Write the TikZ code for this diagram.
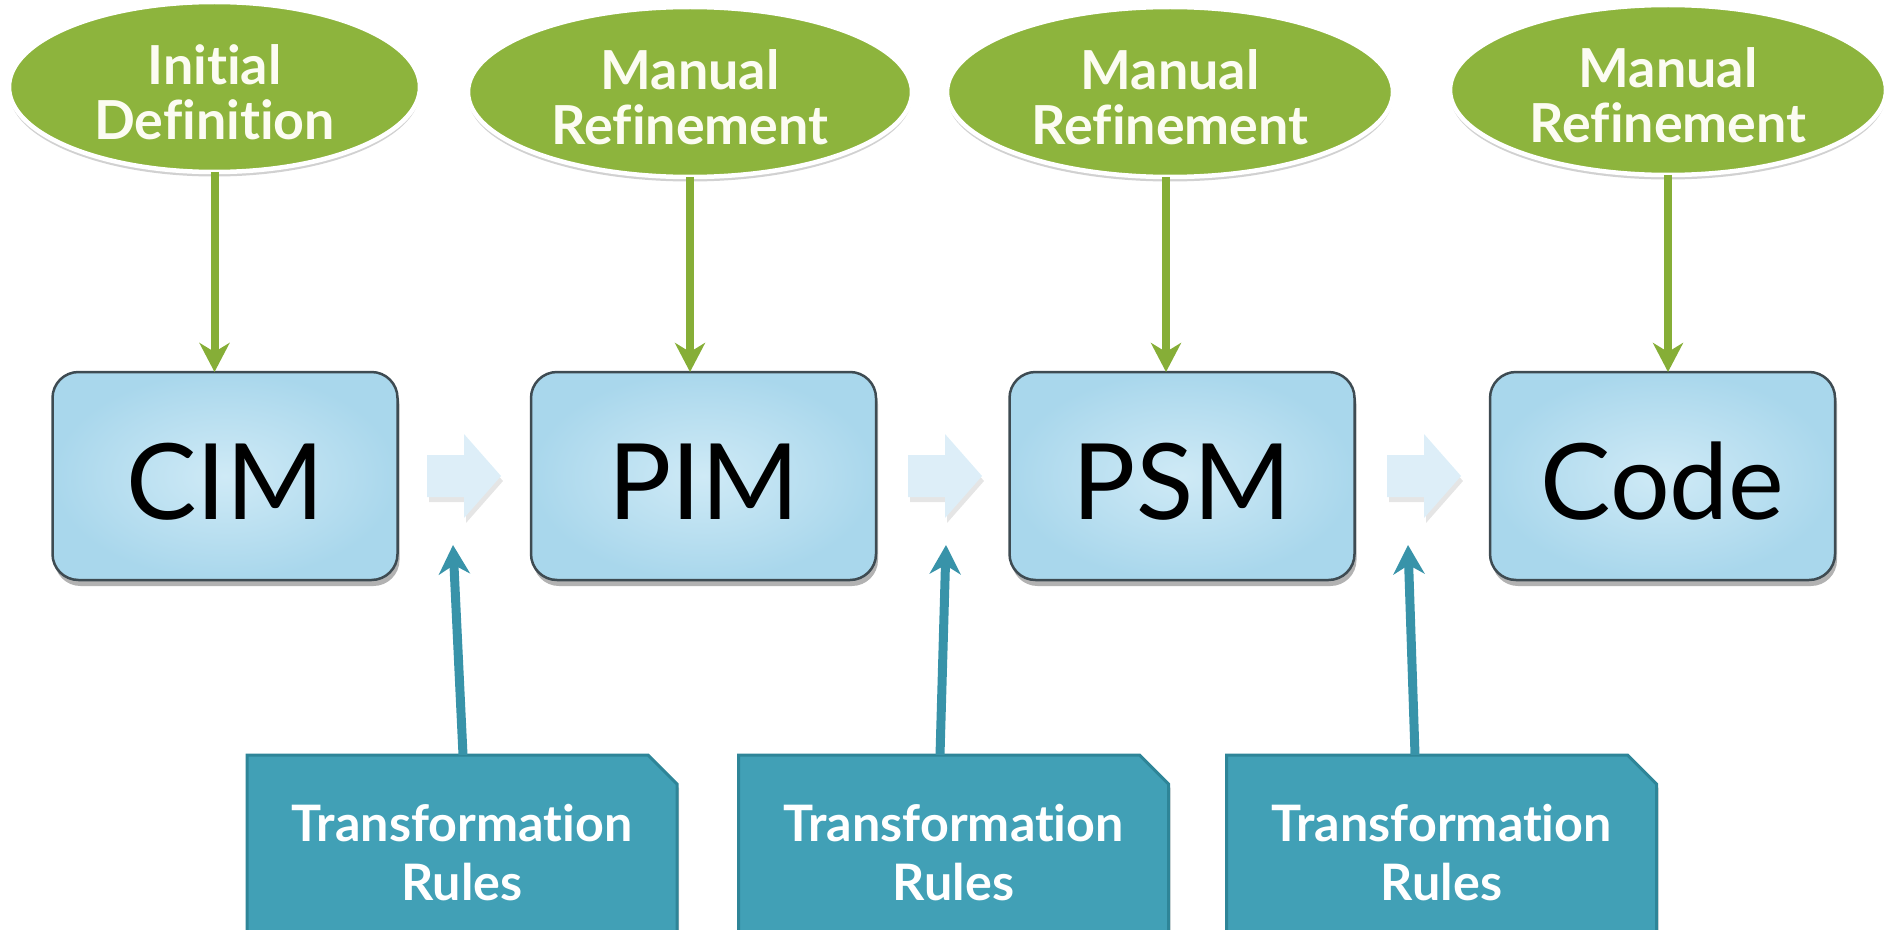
\documentclass[tikz,border=0pt]{standalone}
\usepackage{fontspec}
\setmainfont{Lato}[Ligatures={NoCommon,NoRare}]
\usetikzlibrary{shapes.geometric,shapes.misc,shadows,arrows.meta}
\definecolor{egreen}{HTML}{8DB43D}
\definecolor{agreen}{HTML}{86AE37}
\definecolor{boxin}{HTML}{CFEAF6}
\definecolor{boxout}{HTML}{A9D7EC}
\definecolor{boxedge}{HTML}{3E4B52}
\definecolor{tealfill}{HTML}{41A0B6}
\definecolor{tealedge}{HTML}{2E8598}
\definecolor{tealarrow}{HTML}{3893A9}
\definecolor{barrow}{HTML}{DDEEF8}
\definecolor{etext}{HTML}{FCFCF2}
\begin{document}
\begin{tikzpicture}[x=0.1mm,y=-0.1mm,
  every node/.style={inner sep=0pt, outer sep=0pt},
  manual/.style={ellipse, draw=white, line width=0.45mm, fill=egreen,
    minimum height=17mm,
    drop shadow={shadow xshift=0mm, shadow yshift=-0.45mm, opacity=0.18, fill=black}},
  manuallabel/.style={text=etext, align=center,
    font=\bfseries\fontsize{15.3}{15.7}\selectfont},
  model/.style={rectangle, rounded corners=2.6mm, draw=boxedge, line width=0.25mm,
    inner color=boxin, outer color=boxout,
    minimum width=34.5mm, minimum height=20.8mm,
    text height=8.76mm, text depth=0pt,
    font=\fontsize{30}{30}\selectfont,
    drop shadow={shadow xshift=0.2mm, shadow yshift=-0.6mm, opacity=0.3, fill=black}},
  rules/.style={chamfered rectangle, chamfered rectangle corners=north east,
    chamfered rectangle xsep=1.45mm, chamfered rectangle ysep=1.45mm,
    draw=tealedge, line width=0.3mm, fill=tealfill, text=white,
    minimum width=43mm, minimum height=19.6mm, align=center,
    font=\bfseries\fontsize{14.3}{16.8}\selectfont,
    drop shadow={shadow xshift=0.2mm, shadow yshift=-0.4mm, opacity=0.2, fill=black}},
  garrow/.style={draw=agreen, line width=0.8mm,
    -{Stealth[length=2.9mm, width=3mm, inset=0.9mm]}},
  tarrow/.style={draw=tealarrow, line width=0.9mm,
    -{Stealth[length=2.9mm, width=3.1mm, inset=0.9mm]}},
  blockarrow/.style={fill=barrow}
]
\useasboundingbox (0,0) rectangle (1890,929);
\clip (0,0) rectangle (1890,929);

% ellipses
\node[manual, minimum width=41.1mm] (e1) at (214.5,87) {};
\node[manual, minimum width=44.4mm] (e2) at (690,92) {};
\node[manual, minimum width=44.6mm] (e3) at (1170,92) {};
\node[manual, minimum width=43.6mm] (e4) at (1668,90) {};
\node[manuallabel] (l1) at ([yshift=-0.5mm]e1.center) {Initial\\Definition};
\node[manuallabel] (l2) at ([yshift=-0.5mm]e2.center) {Manual\\Refinement};
\node[manuallabel] (l3) at ([yshift=-0.5mm]e3.center) {Manual\\Refinement};
\node[manuallabel] (l4) at ([yshift=-0.5mm]e4.center) {Manual\\Refinement};

% model boxes
\node[model] (cim) at (225,476) {CIM};
\node[model] (pim) at (703.5,476) {PIM};
\node[model] (psm) at (1182,476) {PSM};
\node[model] (code) at (1662.5,476) {Code};

% green arrows
\draw[garrow] (e1.south) -- (e1.south |- cim.north);
\draw[garrow] (e2.south) -- (e2.south |- pim.north);
\draw[garrow] ([xshift=-0.4mm]e3.south) -- ([xshift=-0.4mm]e3.south |- psm.north);
\draw[garrow] (e4.south) -- (e4.south |- code.north);

% block arrows
\foreach \cx/\nm in {464/ba1, 945/ba2, 1424/ba3}{
  \coordinate (\nm) at (\cx,476);
  \fill[black, opacity=0.10] ([shift={(-35,-21+5)}]\nm) -- ++(37,0) -- ++(0,-21) -- ++(37,42) -- ++(-37,42) -- ++(0,-21) -- ++(-37,0) -- cycle;
  \fill[blockarrow] ([shift={(-37,-21)}]\nm) -- ++(37,0) -- ++(0,-21) -- ++(37,42) -- ++(-37,42) -- ++(0,-21) -- ++(-37,0) -- cycle;
}

% transformation rules
\node[rules] (tr1) at (462,853) {Transformation\\Rules};
\node[rules] (tr2) at (953.5,853) {Transformation\\Rules};
\node[rules] (tr3) at (1441.5,853) {Transformation\\Rules};

\coordinate (t1) at (453,545);
\coordinate (t2) at (946,545);
\coordinate (t3) at (1408,545);
\draw[tarrow] ([xshift=0.1mm]tr1.north) -- (t1);
\draw[tarrow] ([xshift=-1.35mm]tr2.north) -- (t2);
\draw[tarrow] ([xshift=-2.65mm]tr3.north) -- (t3);
\end{tikzpicture}
\end{document}
